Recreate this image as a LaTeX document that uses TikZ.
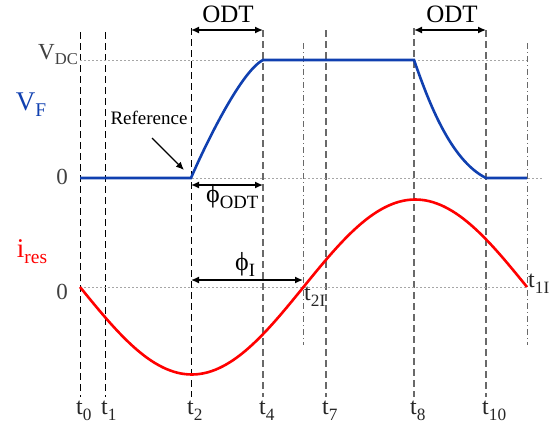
\documentclass[tikz,border=0pt]{standalone}
\usepackage{fontspec}
\setmainfont{Liberation Serif}
\usetikzlibrary{arrows.meta}
\definecolor{vblue}{RGB}{16,64,176}
\definecolor{dgray}{RGB}{64,64,64}
\definecolor{lgray}{RGB}{105,105,105}
\newcommand\lsub[1]{\raisebox{-0.25em}{\scalebox{0.72}{#1}}}
\begin{document}
\begin{tikzpicture}[x=1pt,y=-1pt,
  blk/.style={black, dash pattern=on 7pt off 4pt, line width=1pt},
  gry/.style={lgray, dash pattern=on 7pt off 4pt, line width=1.2pt},
  dd/.style={lgray, dash pattern=on 6pt off 3pt on 1pt off 3pt, line width=1pt},
  guide/.style={black!35, dash pattern=on 2pt off 2pt, line width=0.8pt},
  dim/.style={{Latex[length=8pt,width=7pt]}-{Latex[length=8pt,width=7pt]}, line width=1.4pt},
  lbl/.style={inner sep=0pt, font=\fontsize{24}{24}\selectfont},
  tl/.style={lbl, anchor=base west, text=black!85},
  vf/.style={vblue, line width=2.6pt},
  ir/.style={red, line width=2.6pt}]
\useasboundingbox (0,0) rectangle (554,423);
% vertical time lines
\coordinate (t0a) at (80,32);   \coordinate (t0b) at (80,397);
\coordinate (t1a) at (105,32);  \coordinate (t1b) at (105,397);
\coordinate (t2a) at (191,28);  \coordinate (t2b) at (191,397);
\coordinate (t4a) at (263,30);  \coordinate (t4b) at (263,397);
\coordinate (t7a) at (326,30);  \coordinate (t7b) at (326,397);
\coordinate (t8a) at (414,28);  \coordinate (t8b) at (414,397);
\coordinate (t10a) at (486,30); \coordinate (t10b) at (486,397);
\coordinate (t2Ia) at (303,43); \coordinate (t2Ib) at (303,345);
\coordinate (t11a) at (527,43); \coordinate (t11b) at (527,345);
\draw[blk] (t0a) -- (t0b);
\draw[blk] (t1a) -- (t1b);
\draw[blk] (t2a) -- (t2b);
\draw[gry] (t4a) -- (t4b);
\draw[gry] (t7a) -- (t7b);
\draw[gry] (t8a) -- (t8b);
\draw[gry] (t10a) -- (t10b);
\draw[dd] (t2Ia) -- (t2Ib);
\draw[dd] (t11a) -- (t11b);
% guide lines
\coordinate (g1a) at (80,60);  \coordinate (g1b) at (263,60);
\coordinate (g2a) at (414,60); \coordinate (g2b) at (527,60);
\coordinate (g3a) at (80,178); \coordinate (g3b) at (542,178);
\coordinate (g4a) at (80,287); \coordinate (g4b) at (527,287);
\draw[guide] (g1a) -- (g1b);
\draw[guide] (g2a) -- (g2b);
\draw[guide] (g3a) -- (g3b);
\draw[guide] (g4a) -- (g4b);
% V_F waveform
\draw[vf] (80,178) -- (191,178) .. controls (203,150) and (240,72) .. (263,60)
  -- (414,60) .. controls (428,100) and (450,160) .. (486,178) -- (527,178);
% i_res waveform
\draw[ir] plot[domain=80:527, samples=120, smooth] (\x, {287+87.5*sin((\x-80)/447*360)});
% dimension arrows
\coordinate (o1a) at (191,30); \coordinate (o1b) at (263,30);
\coordinate (o2a) at (414,30); \coordinate (o2b) at (486,30);
\coordinate (pa) at (191,185); \coordinate (pb) at (263,185);
\coordinate (qa) at (191,280); \coordinate (qb) at (303,280);
\draw[dim] (o1a) -- (o1b);
\draw[dim] (o2a) -- (o2b);
\draw[dim] (pa) -- (pb);
\draw[dim] (qa) -- (qb);
% reference arrow
\coordinate (ra) at (152,138); \coordinate (rb) at (184,170);
\draw[line width=1.4pt, -{Latex[length=8pt,width=7pt]}] (ra) -- (rb);
% labels
\node[lbl, anchor=base] (odt1) at (228,23) {\fontsize{25}{25}\selectfont ODT};
\node[lbl, anchor=base] (odt2) at (452,23) {\fontsize{25}{25}\selectfont ODT};
\node[lbl, anchor=base east, text=dgray, font=\fontsize{23}{23}\selectfont] (vdc) at (78,59) {V\lsub{DC}};
\node[lbl, anchor=base, text=vblue, font=\fontsize{27}{27}\selectfont] (vF) at (31,110) {V\lsub{F}};
\node[lbl, anchor=base, font=\fontsize{19}{19}\selectfont] (ref) at (149,124) {Reference};
\node[lbl, anchor=base, text=dgray, font=\fontsize{23}{23}\selectfont] (z1) at (62,184) {0};
\node[lbl, anchor=base, text=dgray, font=\fontsize{23}{23}\selectfont] (z2) at (62,299) {0};
\node[lbl, anchor=base, text=red, font=\fontsize{27}{27}\selectfont] (ires) at (32,257) {i\lsub{res}};
\node[lbl, anchor=base west] (phodt) at (206,202) {\fontsize{26}{26}\selectfont ϕ\lsub{ODT}};
\node[lbl, anchor=base west] (phi) at (235,270) {\fontsize{26}{26}\selectfont ϕ\lsub{I}};
\node[tl] (lt0) at (76,414) {t\lsub{0}};
\node[tl] (lt1) at (101,414) {t\lsub{1}};
\node[tl] (lt2) at (187,414) {t\lsub{2}};
\node[tl] (lt4) at (259,414) {t\lsub{4}};
\node[tl] (lt7) at (322,414) {t\lsub{7}};
\node[tl] (lt8) at (410,414) {t\lsub{8}};
\node[tl] (lt10) at (482,414) {t\lsub{10}};
\node[tl] (lt2I) at (304,300) {t\lsub{2I}};
\node[tl] (lt11) at (528,287) {t\lsub{1I}};
\end{tikzpicture}
\end{document}
